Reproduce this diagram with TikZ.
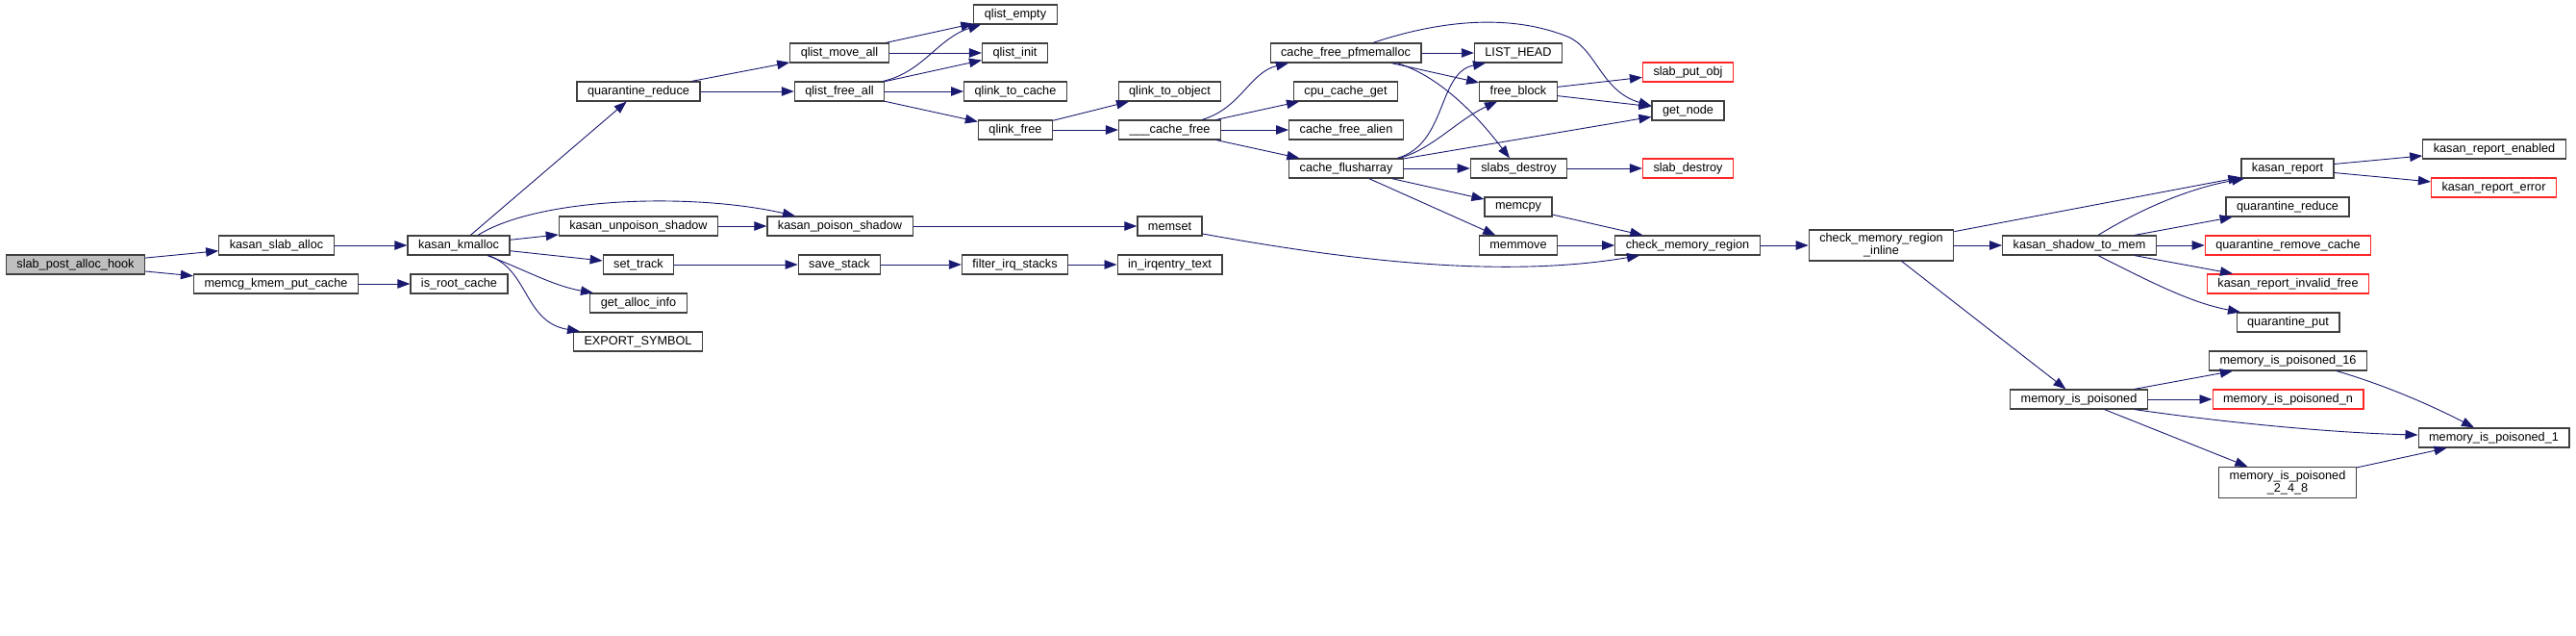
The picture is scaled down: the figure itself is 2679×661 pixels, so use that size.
\documentclass[tikz,border=0pt]{standalone}
\usepackage{fontspec}
\setmainfont{Liberation Sans}
\usepackage{tikz}
\usetikzlibrary{arrows.meta}
\definecolor{edgeblue}{HTML}{191970}
\definecolor{rootgray}{HTML}{BFBFBF}

\begin{document}
\begin{tikzpicture}[x=1pt, y=-1pt, font=\fontsize{12.7}{14}\selectfont]
\tikzstyle{func}=[rectangle, draw=black!75, line width=1.2pt, fill=white,
  minimum height=20pt, inner xsep=11pt, inner ysep=2pt]
\tikzstyle{root}=[func, fill=rootgray]
\tikzstyle{missing}=[func, draw=red!85]
\tikzstyle{twoline}=[func, align=center, minimum height=32pt, inner ysep=1pt,
  font=\fontsize{12.7}{11.5}\selectfont]
\tikzstyle{arrow}=[-{Triangle[length=13pt,width=9.5pt]}, draw=edgeblue,
  line width=0.9pt]

\useasboundingbox (0,0) rectangle (2679,661);

% caller
\node (post_hook) [root] at (78.5,275) {slab\_post\_alloc\_hook};
\node (kasan_slab_alloc) [func] at (287.5,255) {kasan\_slab\_alloc};
\node (memcg_put_cache) [func] at (287,295) {memcg\_kmem\_put\_cache};
\node (kasan_kmalloc) [func] at (477,255) {kasan\_kmalloc};
\node (is_root_cache) [func] at (477.5,295) {is\_root\_cache};

% kasan_kmalloc and below
\node (quarantine_reduce) [func] at (664,95) {quarantine\_reduce};
\node (unpoison_shadow) [func] at (664,235) {kasan\_unpoison\_shadow};
\node (set_track) [func] at (664,275) {set\_track};
\node (get_alloc_info) [func] at (664,315) {get\_alloc\_info};
\node (export_symbol) [func] at (663.5,355) {EXPORT\_SYMBOL};
\node (qlist_move_all) [func] at (873,55) {qlist\_move\_all};
\node (qlist_free_all) [func] at (873,95) {qlist\_free\_all};
\node (poison_shadow) [func] at (873.5,235) {kasan\_poison\_shadow};
\node (save_stack) [func] at (873,275) {save\_stack};
\node (qlist_empty) [func] at (1056,15) {qlist\_empty};
\node (qlist_init) [func] at (1055.5,55) {qlist\_init};
\node (qlink_to_cache) [func] at (1056,95) {qlink\_to\_cache};
\node (qlink_free) [func] at (1056,135) {qlink\_free};
\node (filter_irq_stacks) [func] at (1055.5,275) {filter\_irq\_stacks};
\node (qlink_to_object) [func] at (1216.5,95) {qlink\_to\_object};
\node (cache_free) [func] at (1216.5,135) {\_\_\_cache\_free};
\node (memset) [func] at (1216.5,235) {memset};
\node (in_irqentry_text) [func] at (1216.5,275) {in\_irqentry\_text};

% slab side
\node (pfmemalloc) [func] at (1399.5,55) {cache\_free\_pfmemalloc};
\node (cpu_cache_get) [func] at (1399.5,95) {cpu\_cache\_get};
\node (free_alien) [func] at (1400,135) {cache\_free\_alien};
\node (flusharray) [func] at (1400,175) {cache\_flusharray};
\node (list_head) [func] at (1579,55) {LIST\_HEAD};
\node (free_block) [func] at (1579,95) {free\_block};
\node (slabs_destroy) [func] at (1579.5,175) {slabs\_destroy};
\node (memcpy) [func] at (1579,215) {memcpy};
\node (memmove) [func] at (1579,255) {memmove};
\node (slab_put_obj) [missing] at (1755.5,75) {slab\_put\_obj};
\node (get_node) [func] at (1755.5,115) {get\_node};
\node (slab_destroy) [missing] at (1755.5,175) {slab\_destroy};
\node (check_region) [func] at (1755,255) {check\_memory\_region};

% shadow checks
\node (check_inline) [twoline] at (1956.5,255) {check\_memory\_region\\\_inline};
\node (shadow_to_mem) [func] at (2162.5,255) {kasan\_shadow\_to\_mem};
\node (is_poisoned) [func] at (2162,415) {memory\_is\_poisoned};
\node (kasan_report) [func] at (2379,175) {kasan\_report};
\node (quarantine_reduce_b) [func] at (2379,215) {quarantine\_reduce};
\node (remove_cache) [missing] at (2379.5,255) {quarantine\_remove\_cache};
\node (invalid_free) [missing] at (2379.5,295) {kasan\_report\_invalid\_free};
\node (quarantine_put) [func] at (2379.5,335) {quarantine\_put};
\node (poisoned_16) [func] at (2379.5,375) {memory\_is\_poisoned\_16};
\node (poisoned_n) [missing] at (2379.5,415) {memory\_is\_poisoned\_n};
\node (poisoned_248) [twoline] at (2379,501.5) {memory\_is\_poisoned\\\_2\_4\_8};
\node (report_enabled) [func] at (2594,155) {kasan\_report\_enabled};
\node (report_error) [missing] at (2593.5,195) {kasan\_report\_error};
\node (poisoned_1) [func] at (2593.5,455) {memory\_is\_poisoned\_1};

\draw [arrow] (post_hook) -- (kasan_slab_alloc);
\draw [arrow] (post_hook) -- (memcg_put_cache);
\draw [arrow] (kasan_slab_alloc) -- (kasan_kmalloc);
\draw [arrow] (memcg_put_cache) -- (is_root_cache);

\draw [arrow] (kasan_kmalloc) -- (quarantine_reduce);
\draw [arrow] ([xshift=20]kasan_kmalloc.north) .. controls (560,205) and (720,200)
  .. ([xshift=-46.5]poison_shadow.north);
\draw [arrow] (kasan_kmalloc) -- (unpoison_shadow);
\draw [arrow] (kasan_kmalloc) -- (set_track);
\draw [arrow] ([xshift=30]kasan_kmalloc.south) .. controls (545,280) and (575,297)
  .. ([xshift=-47]get_alloc_info.north);
\draw [arrow] ([xshift=31]kasan_kmalloc.south) .. controls (550,280) and (545,335)
  .. ([xshift=-60.5]export_symbol.north);

\draw [arrow] (quarantine_reduce) -- (qlist_move_all);
\draw [arrow] (quarantine_reduce) -- (qlist_free_all);
\draw [arrow] (qlist_move_all) -- (qlist_empty);
\draw [arrow] (qlist_move_all) -- (qlist_init);
\draw [arrow] ([xshift=-2]qlist_free_all.north east) .. controls (960,75) and (975,40)
  .. ([xshift=-36]qlist_empty.south);
\draw [arrow] (qlist_free_all) -- (qlist_init);
\draw [arrow] (qlist_free_all) -- (qlink_to_cache);
\draw [arrow] (qlist_free_all) -- (qlink_free);
\draw [arrow] (qlink_free) -- (qlink_to_object);
\draw [arrow] (qlink_free) -- (cache_free);

\draw [arrow] ([xshift=33.5]cache_free.north) .. controls (1290,113) and (1300,75)
  .. ([xshift=-59.5]pfmemalloc.south);
\draw [arrow] (cache_free) -- (cpu_cache_get);
\draw [arrow] (cache_free) -- (free_alien);
\draw [arrow] (cache_free) -- (flusharray);

\draw [arrow] (pfmemalloc) -- (list_head);
\draw [arrow] (pfmemalloc) -- (free_block);
\draw [arrow] ([xshift=53.5]pfmemalloc.south) .. controls (1500,80) and (1540,125)
  .. ([xshift=-9.5]slabs_destroy.north);
\draw [arrow] ([xshift=28.5]pfmemalloc.north) .. controls (1480,27) and (1560,10)
  .. (1630,38) .. controls (1660,50) and (1665,95) .. ([yshift=5]get_node.west);
\draw [arrow] ([xshift=53]flusharray.north) .. controls (1505,150) and (1495,75)
  .. ([xshift=-34]list_head.south);
\draw [arrow] ([xshift=55]flusharray.north) .. controls (1490,155) and (1515,125)
  .. ([xshift=-22]free_block.south);
\draw [arrow] (flusharray) -- (get_node);
\draw [arrow] (flusharray) -- (slabs_destroy);
\draw [arrow] (flusharray) -- (memcpy);
\draw [arrow] (flusharray) -- (memmove);
\draw [arrow] (free_block) -- (slab_put_obj);
\draw [arrow] (free_block) -- (get_node);
\draw [arrow] (slabs_destroy) -- (slab_destroy);
\draw [arrow] (memcpy) -- (check_region);
\draw [arrow] (memmove) -- (check_region);

\draw [arrow] (unpoison_shadow) -- (poison_shadow);
\draw [arrow] (poison_shadow) -- (memset);
\draw [arrow] ([yshift=-8]memset.east) .. controls (1400,270) and (1560,290)
  .. ([xshift=-50]check_region.south);
\draw [arrow] (set_track) -- (save_stack);
\draw [arrow] (save_stack) -- (filter_irq_stacks);
\draw [arrow] (filter_irq_stacks) -- (in_irqentry_text);

\draw [arrow] (check_region) -- (check_inline);
\draw [arrow] (check_inline) -- (kasan_report);
\draw [arrow] (check_inline) -- (shadow_to_mem);
\draw [arrow] (check_inline) -- (is_poisoned);
\draw [arrow] ([xshift=19.5]shadow_to_mem.north) .. controls (2230,215) and (2280,195)
  .. ([xshift=-45]kasan_report.south);
\draw [arrow] (shadow_to_mem) -- (quarantine_reduce_b);
\draw [arrow] (shadow_to_mem) -- (remove_cache);
\draw [arrow] (shadow_to_mem) -- (invalid_free);
\draw [arrow] ([xshift=19.5]shadow_to_mem.south) .. controls (2240,295) and (2280,315)
  .. ([xshift=-49.5]quarantine_put.north);
\draw [arrow] (kasan_report) -- (report_enabled);
\draw [arrow] (kasan_report) -- (report_error);

\draw [arrow] (is_poisoned) -- (poisoned_16);
\draw [arrow] (is_poisoned) -- (poisoned_n);
\draw [arrow] ([xshift=58]is_poisoned.south) .. controls (2320,440) and (2430,450)
  .. ([yshift=3]poisoned_1.west);
\draw [arrow] (is_poisoned) -- (poisoned_248);
\draw [arrow] ([xshift=50.5]poisoned_16.south) .. controls (2480,400) and (2530,422)
  .. ([xshift=-20.5]poisoned_1.north);
\draw [arrow] (poisoned_248) -- (poisoned_1);
\end{tikzpicture}
\end{document}
